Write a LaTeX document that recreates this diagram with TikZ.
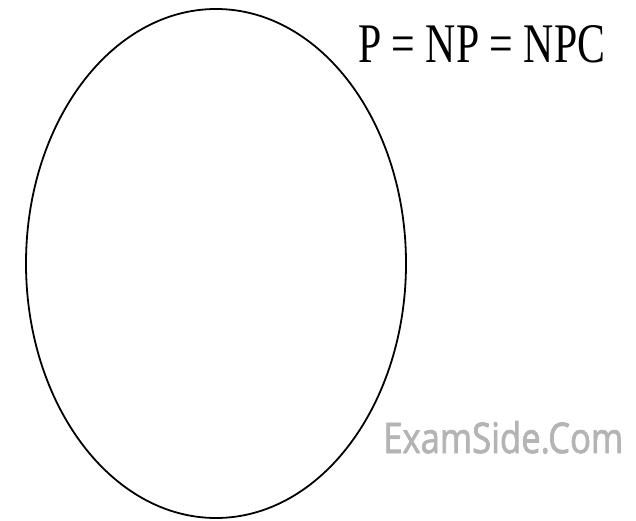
\documentclass[tikz,border=0pt]{standalone}
\usepackage{fontspec}
\setmainfont{Liberation Serif}
\newfontfamily\eqfont{Liberation Serif}
\newfontfamily\wmfont[FakeBold=2]{Open Sans}
\definecolor{wmgray}{HTML}{B4B4B4}
\tikzset{
  setline/.style={draw=black, line width=1.8pt},
  lbl/.style={inner sep=0pt, anchor=base west},
}
\begin{document}
\begin{tikzpicture}[x=1pt,y=-1pt]
\useasboundingbox (0,0) rectangle (636,521);
\coordinate (c) at (216,263.5);
\draw[setline] (c) ellipse [x radius=190pt, y radius=254.5pt];
\node[lbl] (eq) at (358,63) {\resizebox{247pt}{37pt}{\eqfont\fontsize{50}{50}\selectfont P = NP = NPC}};
\node[lbl, text=wmgray] (wm) at (383,453) {\resizebox{240pt}{32pt}{\wmfont\fontsize{40}{40}\selectfont ExamSide.Com}};
\end{tikzpicture}
\end{document}
